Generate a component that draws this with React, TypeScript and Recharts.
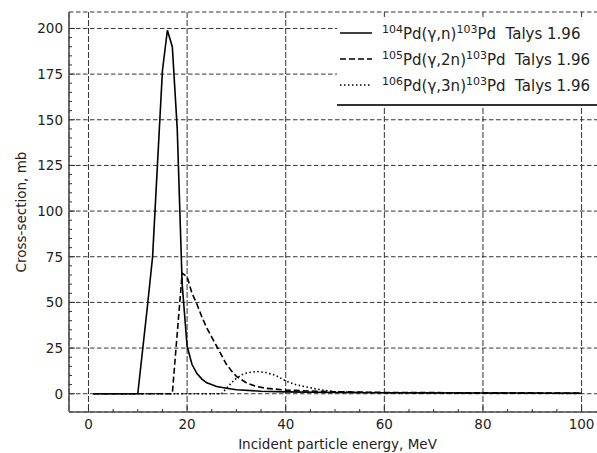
import React from 'react';
import { LineChart, Line, XAxis, YAxis, CartesianGrid } from 'recharts';

// 104Pd(g,n)103Pd
const solidX = [1, 10, 12, 13, 14, 15, 16, 17, 18, 19, 20, 21, 22, 23, 24, 26, 28, 30, 35, 40, 50, 60, 80, 100];
const solidY = [0, 0, 49, 75, 126, 177, 199, 190, 145, 60, 26, 16, 11, 8, 6, 4, 3, 2.2, 1.4, 1, 0.7, 0.5, 0.4, 0.3];

// 105Pd(g,2n)103Pd
const dashX = [1, 17, 18, 19, 20, 21, 22, 23, 24, 25, 26, 27, 28, 29, 30, 32, 34, 36, 40, 45, 50, 60, 80, 100];
const dashY = [0, 0, 33, 66, 64, 55, 49, 42, 36, 31, 26, 21, 16, 12.5, 9.5, 6, 4, 3, 2, 1.5, 1.1, 0.7, 0.5, 0.4];

// 106Pd(g,3n)103Pd
const dotX = [1, 27, 28, 29, 30, 31, 32, 34, 36, 38, 40, 42, 44, 46, 48, 50, 55, 60, 80, 100];
const dotY = [0, 0, 3, 6, 8.5, 10.3, 11.3, 12.2, 11.6, 10, 7, 5, 3.8, 2.7, 1.8, 1.1, 0.7, 0.5, 0.3, 0.2];

const xMajor = [0, 20, 40, 60, 80, 100];
const xMinor = Array.from({ length: 21 }, (_, i) => i * 5);
const yMajor = [0, 25, 50, 75, 100, 125, 150, 175, 200];
const yMinor = Array.from({ length: 41 }, (_, i) => i * 5);

const legendItems = [
  { a: '104', r: 'γ,n', dash: undefined },
  { a: '105', r: 'γ,2n', dash: '6 3' },
  { a: '106', r: 'γ,3n', dash: '1.5 2.5' },
];

const toRows = (xs: number[], ys: number[]) => xs.map((x, i) => ({ x, y: ys[i] }));

const INK = '#222';
const FONT = 'DejaVu Sans, sans-serif';
const FS = 13.5;

const XTick = (props: any) => {
  const { x, y, payload } = props;
  const v = payload.value;
  const major = v % 20 === 0;
  return (
    <g>
      <line x1={x} x2={x} y1={y} y2={y - (major ? 6 : 3)} stroke="#333" strokeWidth={1} />
      {major && (
        <text x={x} y={y + 17} textAnchor="middle" fontSize={FS} fill={INK} fontFamily={FONT}>
          {v}
        </text>
      )}
    </g>
  );
};

const TopTick = (props: any) => {
  const { x, y, payload } = props;
  const major = payload.value % 20 === 0;
  return <line x1={x} x2={x} y1={y} y2={y + (major ? 6 : 3)} stroke="#333" strokeWidth={1} />;
};

const YTick = (props: any) => {
  const { x, y, payload } = props;
  const v = payload.value;
  const major = v % 25 === 0;
  return (
    <g>
      <line x1={x} x2={x + (major ? 6 : 3)} y1={y} y2={y} stroke="#333" strokeWidth={1} />
      {major && (
        <text x={x - 6} y={y + 5} textAnchor="end" fontSize={FS} fill={INK} fontFamily={FONT}>
          {v}
        </text>
      )}
    </g>
  );
};

const LegendBox = () => (
  <div
    style={{
      position: 'absolute',
      left: 337,
      top: 17,
      background: '#fff',
      borderBottom: '2px solid #333',
      width: 262,
      padding: '3px 0 6px 3px',
      fontFamily: FONT,
      fontSize: 15,
      color: INK,
    }}
  >
    {legendItems.map((it) => (
      <div key={it.a} style={{ display: 'flex', alignItems: 'center', height: 26, whiteSpace: 'pre' }}>
        <svg width={42} height={10}>
          <line x1={0} x2={32} y1={5} y2={5} stroke="#000" strokeWidth={1.5} strokeDasharray={it.dash} />
        </svg>
        <span>
          <sup style={{ fontSize: 11 }}>{it.a}</sup>Pd({it.r})<sup style={{ fontSize: 11 }}>103</sup>Pd  Talys 1.96
        </span>
      </div>
    ))}
  </div>
);

export default function App() {
  return (
    <div
      style={{
        position: 'absolute',
        left: 0,
        top: 0,
        width: 597,
        height: 453,
        overflow: 'hidden',
        background: '#fff',
      }}
    >
      <LineChart width={610} height={453} margin={{ top: 12, right: 4, left: 0, bottom: 0 }}>
        <XAxis xAxisId="gx" type="number" dataKey="x" domain={[-3.95, 104.95]} ticks={xMajor} allowDataOverflow hide height={0} />
        <YAxis yAxisId="gy" type="number" dataKey="y" domain={[-10, 209]} ticks={yMajor} allowDataOverflow hide width={0} />
        <CartesianGrid xAxisId="gx" yAxisId="gy" vertical={false} stroke="#333" strokeDasharray="4.5 2.5" />
        <CartesianGrid xAxisId="gx" yAxisId="gy" horizontal={false} stroke="#333" strokeDasharray="6 2" />
        <XAxis
          xAxisId="x"
          type="number"
          dataKey="x"
          domain={[-3.95, 104.95]}
          ticks={xMinor}
          allowDataOverflow
          height={41}
          tickSize={0}
          tickMargin={0}
          tickLine={false}
          tick={<XTick />}
          interval={0}
          axisLine={{ stroke: '#555', strokeWidth: 1.6 }}
          label={{ value: 'Incident particle energy, MeV', position: 'insideBottom', offset: 4, fontSize: FS, fill: INK, fontFamily: FONT }}
        />
        <XAxis
          xAxisId="top"
          orientation="top"
          type="number"
          dataKey="x"
          domain={[-3.95, 104.95]}
          ticks={xMinor}
          allowDataOverflow
          height={0}
          tickSize={0}
          tickMargin={0}
          tickLine={false}
          tick={<TopTick />}
          interval={0}
          axisLine={{ stroke: '#555', strokeWidth: 1.6 }}
        />
        <YAxis
          yAxisId="y"
          type="number"
          dataKey="y"
          domain={[-10, 209]}
          ticks={yMinor}
          allowDataOverflow
          width={69}
          tickSize={0}
          tickMargin={0}
          tickLine={false}
          tick={<YTick />}
          interval={0}
          axisLine={{ stroke: '#555', strokeWidth: 1.6 }}
          label={{ value: 'Cross-section, mb', angle: -90, position: 'insideLeft', offset: 21, fontSize: FS, fill: INK, fontFamily: FONT, style: { textAnchor: 'middle' } }}
        />
        <Line xAxisId="x" yAxisId="y" data={toRows(solidX, solidY)} dataKey="y" stroke="#000" strokeWidth={1.6} dot={false} isAnimationActive={false} />
        <Line xAxisId="x" yAxisId="y" data={toRows(dashX, dashY)} dataKey="y" stroke="#000" strokeWidth={1.6} strokeDasharray="6 3" dot={false} isAnimationActive={false} />
        <Line xAxisId="x" yAxisId="y" data={toRows(dotX, dotY)} dataKey="y" stroke="#000" strokeWidth={1.6} strokeDasharray="1.5 2.5" dot={false} isAnimationActive={false} />
      </LineChart>
      <LegendBox />
    </div>
  );
}
